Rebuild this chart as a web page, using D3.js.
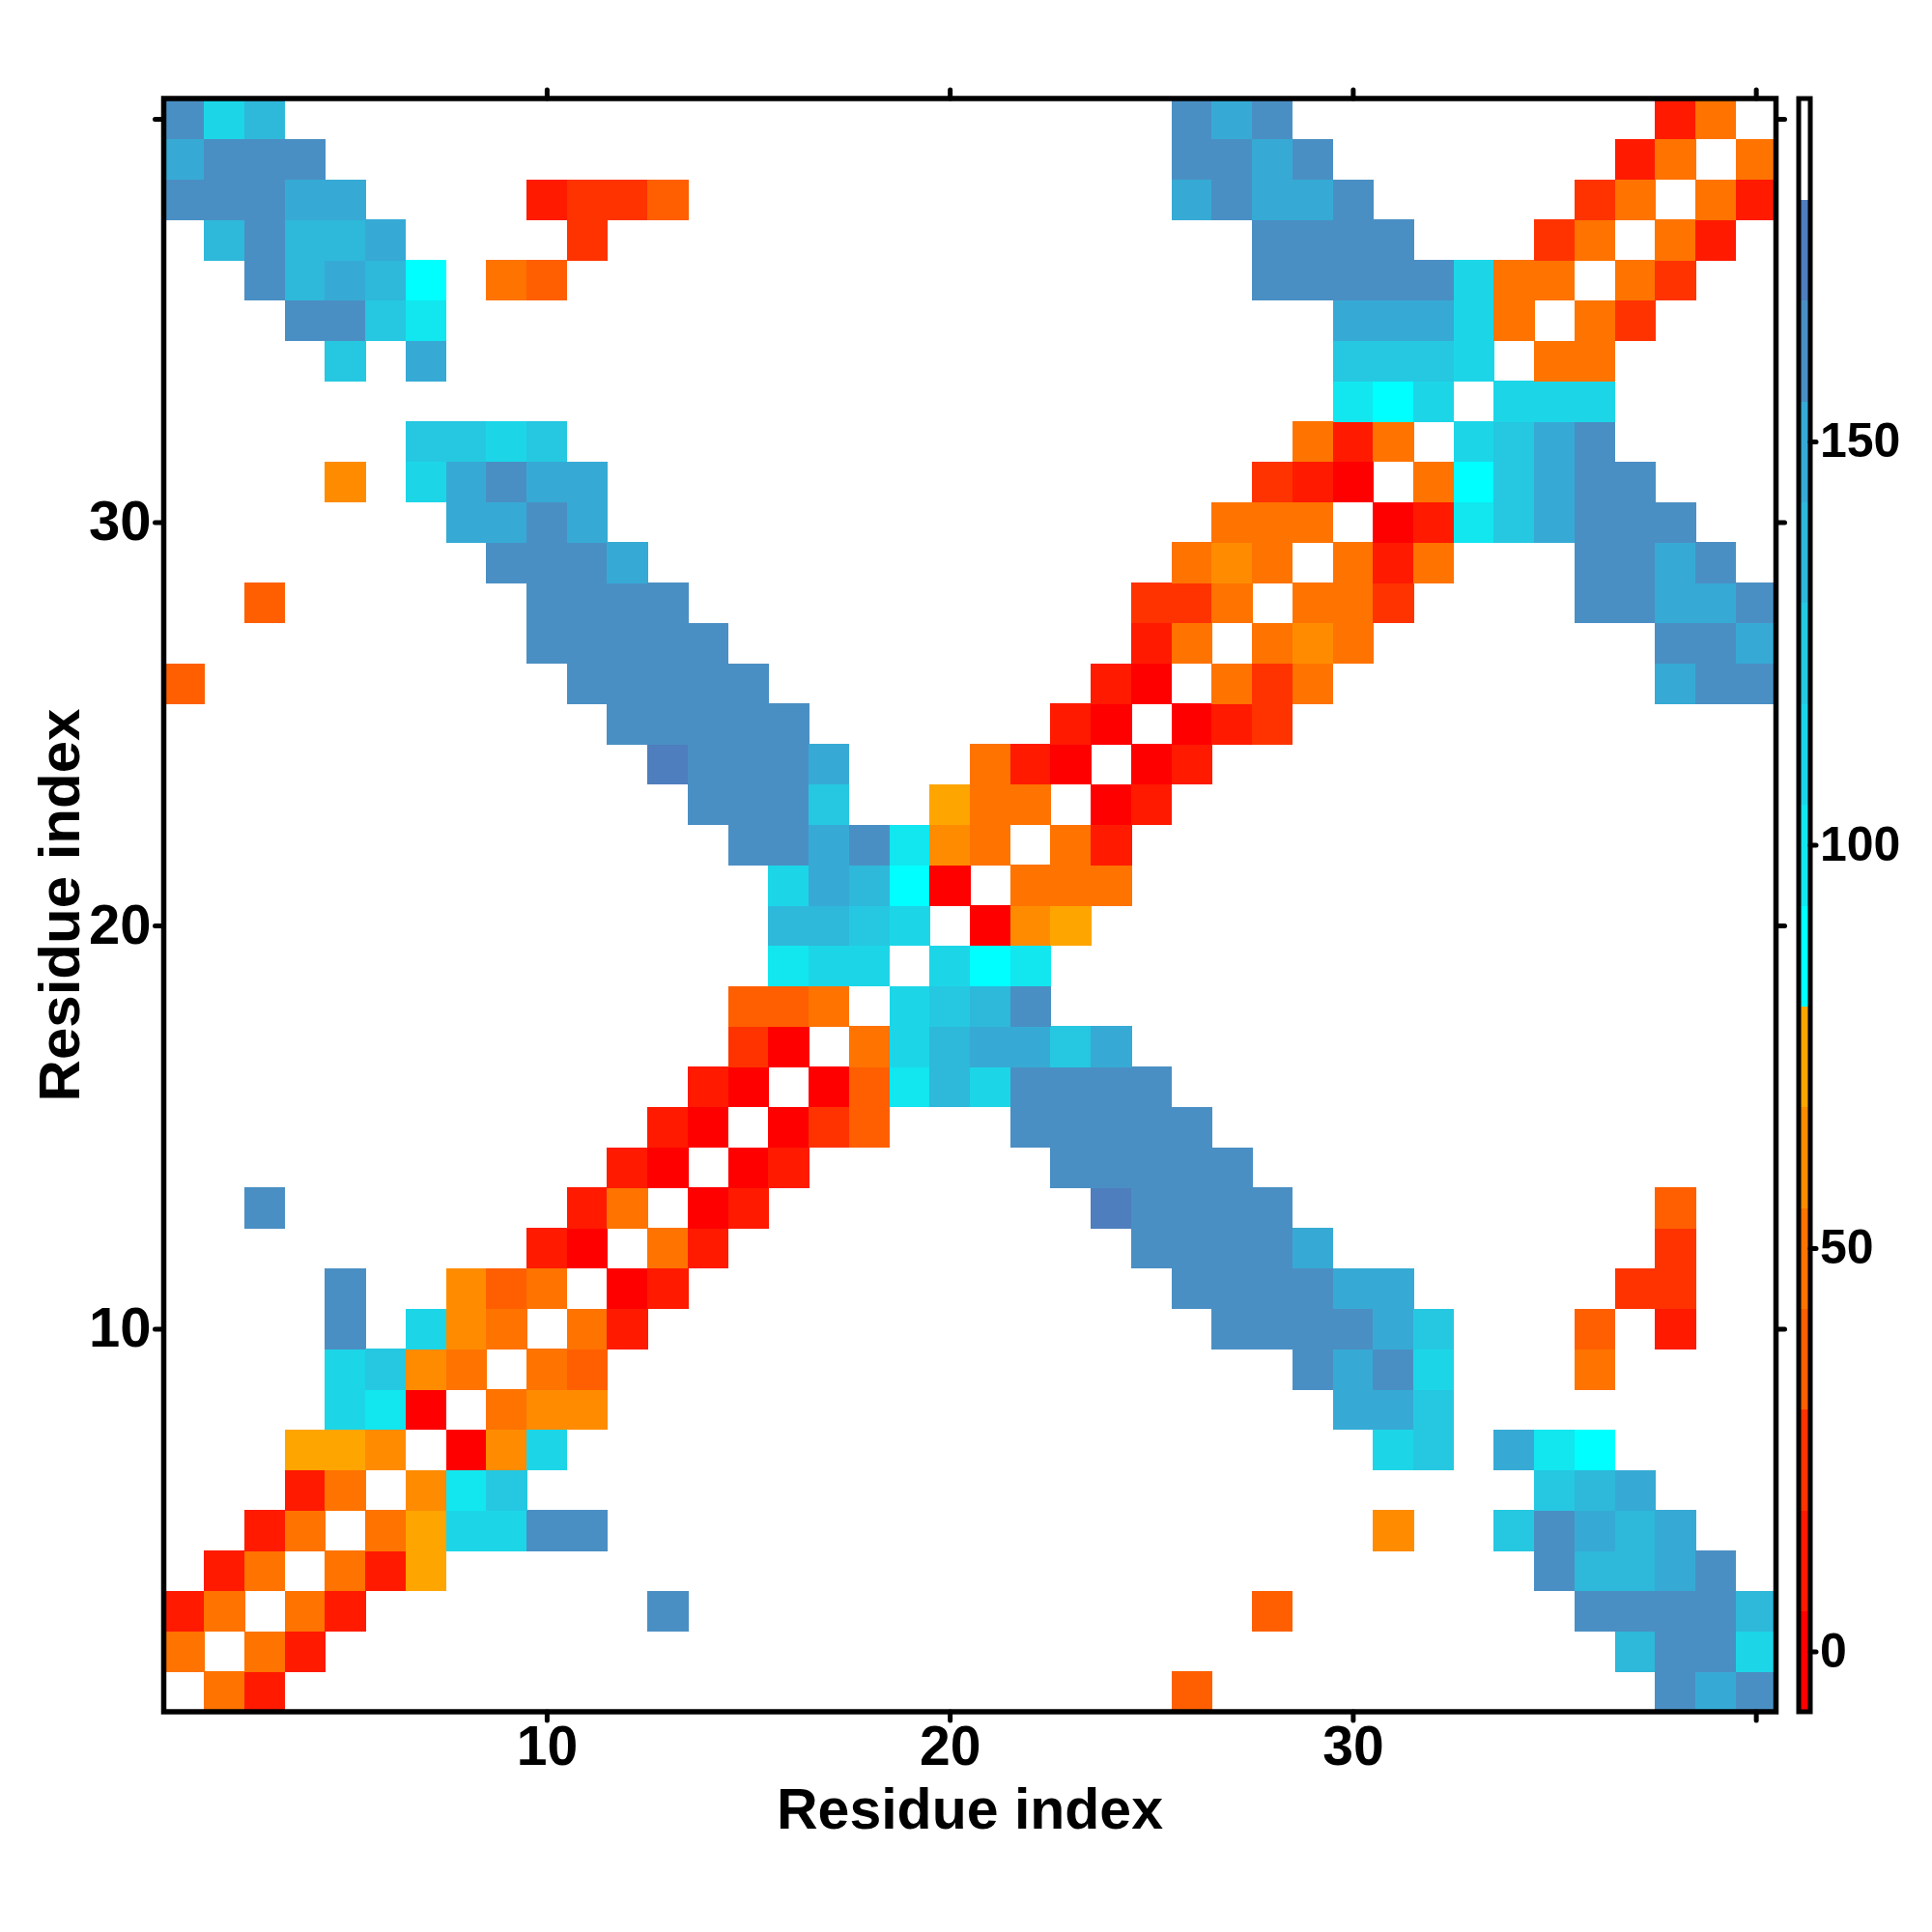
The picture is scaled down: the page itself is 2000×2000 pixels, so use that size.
<!DOCTYPE html>
<html>
<head>
<meta charset="utf-8">
<script src="https://cdn.jsdelivr.net/npm/d3@7"></script>
<style>
  html, body { margin: 0; padding: 0; background: #ffffff; }
  svg { display: block; }
  text { font-family: "Liberation Sans", Arial, Helvetica, sans-serif; font-weight: bold; fill: #000; }
</style>
</head>
<body>
<svg id="chart" width="2000" height="2000"></svg>
<script>
// ---------------- data ----------------
const residues = [1,2,3,4,5,6,7,8,9,10,11,12,13,14,15,16,17,18,19,20,
                  21,22,23,24,25,26,27,28,29,30,31,32,33,34,35,36,37,38,39,40];
const axisTicks = [10, 20, 30, 40];
const axisTickLabels = ["10", "20", "30", ""];
const colorbarTicks = [0, 50, 100, 150];
const colorbarDomain = [-7.5, 192.5];
const binEdges = [5, 17.5, 30, 42.5, 55, 67.5, 80, 92.5, 105, 117.5, 130, 142.5, 155, 167.5, 180];
const binColors = ["#ff0000", "#ff1a00", "#ff3300", "#ff5f00", "#ff7300", "#ff8c00", "#ffa500",
                   "#00ffff", "#12e6ef", "#1cd6e8", "#25c8e0", "#2eb8da", "#36aad5", "#4a8fc4", "#4e7ebd",
                   "#ffffff"];
// upper-triangle pairs [i, j, value] (i < j); matrix is symmetric, diagonal empty
const pairAngles = [
  [1,2,48],[1,3,11],[2,3,48],[2,4,11],[3,4,48],[3,5,11],[4,5,48],[4,6,11],[4,7,73],
  [5,6,48],[5,7,73],[5,8,111],[5,9,111],[5,10,161],[6,7,61],[6,8,98],[6,9,124],
  [7,8,1],[7,9,61],[7,10,111],[8,9,48],[8,10,61],[9,10,48],
  [3,13,161],[5,11,161],[8,11,61],[9,11,36],[10,11,48],[10,12,11],
  [11,12,1],[11,13,11],[12,13,48],[12,14,11],[13,14,1],[13,15,11],[14,15,1],[14,16,11],
  [15,16,1],[15,17,24],[15,18,36],[16,17,1],[16,18,36],[16,19,98],[16,20,136],
  [17,18,48],[17,19,111],[17,20,136],[18,19,111],[18,20,124],[19,20,111],
  [1,26,36],[3,28,36],[8,30,148],[9,29,161],[9,30,148],
  [10,27,161],[10,28,161],[10,29,161],[10,30,161],
  [11,26,161],[11,27,161],[11,28,161],[11,29,161],[11,30,148],
  [12,25,161],[12,26,161],[12,27,161],[12,28,161],[12,29,148],
  [13,24,173],[13,25,161],[13,26,161],[13,27,161],[13,28,161],
  [14,23,161],[14,24,161],[14,25,161],[14,26,161],[14,27,161],
  [15,22,161],[15,23,161],[15,24,161],[15,25,161],[15,26,161],
  [16,21,111],[16,22,161],[16,23,161],[16,24,161],[16,25,161],
  [17,21,148],[17,22,148],[17,23,124],[17,24,148],
  [18,21,136],[18,22,161],[19,21,86],[19,22,98],
  [20,21,1],[20,22,61],[20,23,73],
  [21,22,48],[21,23,48],[21,24,48],[22,23,48],[22,24,11],[23,24,1],[23,25,11],
  [24,25,1],[24,26,11],[25,26,1],[25,27,11],[25,28,24],[26,27,48],[26,28,24],[26,29,48],
  [27,28,48],[27,29,61],[27,30,48],[28,29,48],[28,30,48],[29,30,48],
  [5,31,61],[7,31,111],[8,31,148],[9,31,161],[10,31,148],
  [7,32,124],[8,32,124],[9,32,111],[10,32,124],
  [5,34,124],[7,34,148],
  [4,35,161],[5,35,161],[6,35,124],[7,35,98],
  [3,36,161],[4,36,136],[5,36,148],[6,36,136],[7,36,86],[9,36,48],[10,36,36],
  [2,37,136],[3,37,161],[4,37,136],[5,37,136],[6,37,148],
  [1,38,161],[2,38,161],[3,38,161],[4,38,148],[5,38,148],[10,38,11],
  [1,39,148],[2,39,161],[3,39,161],[4,39,161],
  [1,40,161],[2,40,111],[3,40,136],
  [11,31,148],[11,37,24],[11,38,24],[12,38,24],[13,38,36],
  [28,31,24],[29,31,11],[30,31,1],[29,32,48],[30,32,11],
  [30,33,98],[30,34,124],[30,35,148],
  [28,36,161],[29,36,161],[30,36,161],[28,37,161],[29,37,161],[30,37,161],
  [26,38,148],[27,38,161],[28,38,148],[29,38,148],[30,38,161],
  [26,39,161],[27,39,161],[28,39,148],[29,39,161],
  [26,40,161],[27,40,148],[28,40,161],
  [31,32,48],[31,33,86],[31,34,124],[31,35,148],[31,36,161],[31,37,161],
  [32,33,111],[32,34,124],[32,35,148],[32,36,161],
  [33,34,111],[33,35,111],[33,36,111],
  [34,35,48],[34,36,48],[35,36,48],[35,37,24],[36,37,48],[36,38,24],
  [37,38,48],[37,39,11],[38,39,48],[38,40,11],[39,40,48]
];

// ---------------- layout ----------------
const svg = d3.select("#chart");
svg.append("rect").attr("width", 2000).attr("height", 2000).attr("fill", "#ffffff");

const plot = { left: 169.5, right: 1838.5, top: 102, bottom: 1772 };
const x = d3.scaleLinear().domain([0.5, 40.5]).range([plot.left, plot.right]);
const y = d3.scaleLinear().domain([0.5, 40.5]).range([plot.bottom, plot.top]);
const color = d3.scaleThreshold().domain(binEdges).range(binColors);

// build symmetric cell list
const cells = [];
pairAngles.forEach(([i, j, v]) => {
  cells.push({ i: i, j: j, v: v });
  cells.push({ i: j, j: i, v: v });
});

svg.append("g").selectAll("rect").data(cells).join("rect")
  .attr("x", d => x(d.i - 0.5))
  .attr("y", d => y(d.j + 0.5))
  .attr("width", d => x(d.i + 0.5) - x(d.i - 0.5) + 0.6)
  .attr("height", d => y(d.j - 0.5) - y(d.j + 0.5) + 0.6)
  .attr("fill", d => color(d.v))
  .attr("shape-rendering", "crispEdges");

// axes
const tickLen = 9;
function styleAxis(g, size) {
  g.select(".domain").remove();
  g.selectAll(".tick line").attr("stroke", "#000").attr("stroke-width", 5).attr("stroke-linecap", "round");
  g.selectAll(".tick text").style("font-size", size + "px").style("font-weight", "bold")
    .style("font-family", '"Liberation Sans", Arial, sans-serif').attr("fill", "#000");
}
const fmt = d => axisTickLabels[axisTicks.indexOf(d)];

svg.append("g").attr("transform", `translate(0,${plot.bottom})`)
  .call(d3.axisBottom(x).tickValues(axisTicks).tickFormat(fmt).tickSizeInner(tickLen).tickSizeOuter(0).tickPadding(6))
  .call(g => styleAxis(g, 57));
svg.append("g").attr("transform", `translate(0,${plot.top})`)
  .call(d3.axisTop(x).tickValues(axisTicks).tickFormat("").tickSizeInner(tickLen).tickSizeOuter(0))
  .call(g => styleAxis(g, 57));
svg.append("g").attr("transform", `translate(${plot.left},0)`)
  .call(d3.axisLeft(y).tickValues(axisTicks).tickFormat(fmt).tickSizeInner(tickLen).tickSizeOuter(0).tickPadding(4))
  .call(g => styleAxis(g, 58));
svg.append("g").attr("transform", `translate(${plot.right},0)`)
  .call(d3.axisRight(y).tickValues(axisTicks).tickFormat("").tickSizeInner(tickLen).tickSizeOuter(0))
  .call(g => styleAxis(g, 58));

// panel border
svg.append("rect")
  .attr("x", plot.left).attr("y", plot.top)
  .attr("width", plot.right - plot.left).attr("height", plot.bottom - plot.top)
  .attr("fill", "none").attr("stroke", "#000").attr("stroke-width", 5.5);

// axis titles
svg.append("text").attr("x", (plot.left + plot.right) / 2).attr("y", 1893)
  .attr("text-anchor", "middle").style("font-size", "59px").text("Residue index");
svg.append("text").attr("transform", `translate(82,${(plot.top + plot.bottom) / 2}) rotate(-90)`)
  .attr("text-anchor", "middle").style("font-size", "60px").text("Residue index");

// colorbar
const cb = { left: 1862, width: 12 };
const cbScale = d3.scaleLinear().domain(colorbarDomain).range([plot.bottom, plot.top]);
const bandBounds = [colorbarDomain[0], ...binEdges, colorbarDomain[1]];
const bands = d3.range(bandBounds.length - 1).map(k => ({ lo: bandBounds[k], hi: bandBounds[k + 1] }));
svg.append("g").selectAll("rect").data(bands).join("rect")
  .attr("x", cb.left).attr("width", cb.width)
  .attr("y", d => cbScale(d.hi)).attr("height", d => cbScale(d.lo) - cbScale(d.hi) + 0.5)
  .attr("fill", d => color((d.lo + d.hi) / 2))
  .attr("shape-rendering", "crispEdges");
svg.append("rect").attr("x", cb.left).attr("y", plot.top).attr("width", cb.width)
  .attr("height", plot.bottom - plot.top).attr("fill", "none").attr("stroke", "#000").attr("stroke-width", 5);
const cbAxis = svg.append("g").attr("transform", `translate(${cb.left + cb.width},0)`)
  .call(d3.axisRight(cbScale).tickValues(colorbarTicks).tickSizeInner(6).tickSizeOuter(0).tickPadding(4));
cbAxis.select(".domain").remove();
cbAxis.selectAll(".tick line").attr("stroke", "#000").attr("stroke-width", 5).attr("stroke-linecap", "round");
cbAxis.selectAll(".tick text").style("font-size", "50px").style("font-weight", "bold")
  .style("font-family", '"Liberation Sans", Arial, sans-serif').attr("fill", "#000");
</script>
</body>
</html>
